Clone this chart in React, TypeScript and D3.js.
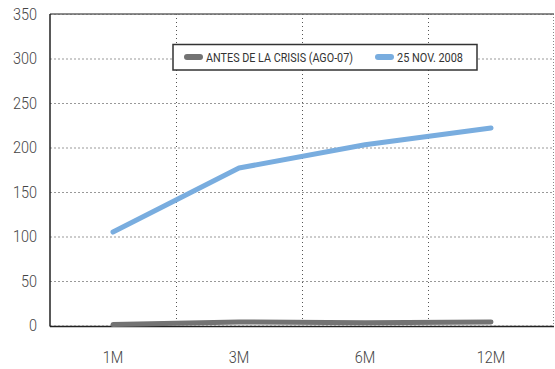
import React from "react";
import * as d3 from "d3";

const categories = ["1M", "3M", "6M", "12M"];
const beforeCrisis = [1, 4, 3, 4];
const nov2008 = [105, 177, 203, 222];
const yTicks = [0, 50, 100, 150, 200, 250, 300, 350];
const seriesNames = ["ANTES DE LA CRISIS (AGO-07)", "25 NOV. 2008"];

const W = 555;
const H = 369;
const left = 50;
const right = 554;
const top = 14;
const bottom = 325.5;
const FONT = "Roboto, 'Liberation Sans', sans-serif";

// Condensed-looking text: horizontal squeeze around the anchor point.
function NarrowText(props: {
  x: number;
  y: number;
  sx?: number;
  anchor?: "start" | "middle" | "end";
  baseline?: string;
  size: number;
  fill: string;
  children: React.ReactNode;
}) {
  const { x, y, sx = 0.85, anchor = "start", baseline, size, fill, children } = props;
  return (
    <g transform={`translate(${x},${y}) scale(${sx},1)`}>
      <text
        x={0}
        y={0}
        textAnchor={anchor}
        dominantBaseline={baseline}
        fontSize={size}
        fontWeight={300}
        fill={fill}
      >
        {children}
      </text>
    </g>
  );
}

export default function App() {
  const x = d3.scaleBand<string>().domain(categories).range([left, right]).padding(0);
  const y = d3.scaleLinear().domain([0, 350]).range([bottom, top]);
  const cx = (c: string) => (x(c) as number) + x.bandwidth() / 2;

  const line = d3
    .line<number>()
    .x((_, i) => cx(categories[i]))
    .y((d) => y(d));

  const gray = "#737373";
  const blue = "#79addf";

  return (
    <svg
      width={W}
      height={H}
      style={{ position: "absolute", left: 0, top: 0 }}
      fontFamily={FONT}
    >
      <rect width={W} height={H} fill="#fff" />
      {/* horizontal grid */}
      {yTicks.map((t) => (
        <line
          key={"h" + t}
          x1={left}
          x2={right}
          y1={y(t) + 0.5}
          y2={y(t) + 0.5}
          stroke="#999"
          strokeWidth={1}
          strokeDasharray="2,2"
        />
      ))}
      {/* vertical grid at category boundaries */}
      {categories.slice(1).map((c) => (
        <line
          key={"v" + c}
          x1={Math.round(x(c) as number) + 0.5}
          x2={Math.round(x(c) as number) + 0.5}
          y1={top}
          y2={bottom}
          stroke="#555"
          strokeWidth={1}
          strokeDasharray="1,3"
        />
      ))}
      <line x1={right - 0.5} x2={right - 0.5} y1={top} y2={bottom} stroke="#888" strokeDasharray="1,2" />
      {/* frame */}
      <line x1={left} x2={right} y1={top} y2={top} stroke="#666" strokeWidth={1.5} />
      <line x1={left} x2={left} y1={top} y2={bottom + 1} stroke="#222" strokeWidth={1.5} />
      <line x1={left} x2={right} y1={bottom + 1} y2={bottom + 1} stroke="#222" strokeWidth={1.5} />

      {/* y labels */}
      {yTicks.map((t) => (
        <NarrowText key={"yl" + t} x={37} y={y(t)} anchor="end" baseline="central" size={17} fill="#444">
          {t}
        </NarrowText>
      ))}
      {/* x labels */}
      {categories.map((c) => (
        <NarrowText key={"xl" + c} x={cx(c)} y={363} anchor="middle" size={17} fill="#444">
          {c}
        </NarrowText>
      ))}

      {/* series */}
      <path d={line(beforeCrisis) || ""} fill="none" stroke={gray} strokeWidth={5} strokeLinecap="round" strokeLinejoin="round" />
      <path d={line(nov2008) || ""} fill="none" stroke={blue} strokeWidth={5} strokeLinecap="round" strokeLinejoin="round" />

      {/* legend */}
      <rect x={173} y={44.5} width={304} height={25.5} fill="#fff" stroke="#333" strokeWidth={1.5} />
      <line x1={187} x2={200} y1={57} y2={57} stroke={gray} strokeWidth={6} strokeLinecap="round" />
      <text
        x={206}
        y={57}
        dominantBaseline="central"
        fontSize={12.5}
        fill="#333"
        textLength={147}
        lengthAdjust="spacingAndGlyphs"
      >
        {seriesNames[0]}
      </text>
      <line x1={378} x2={391} y1={57} y2={57} stroke={blue} strokeWidth={6} strokeLinecap="round" />
      <text
        x={397}
        y={57}
        dominantBaseline="central"
        fontSize={12.5}
        fill="#333"
        textLength={66}
        lengthAdjust="spacingAndGlyphs"
      >
        {seriesNames[1]}
      </text>
    </svg>
  );
}
